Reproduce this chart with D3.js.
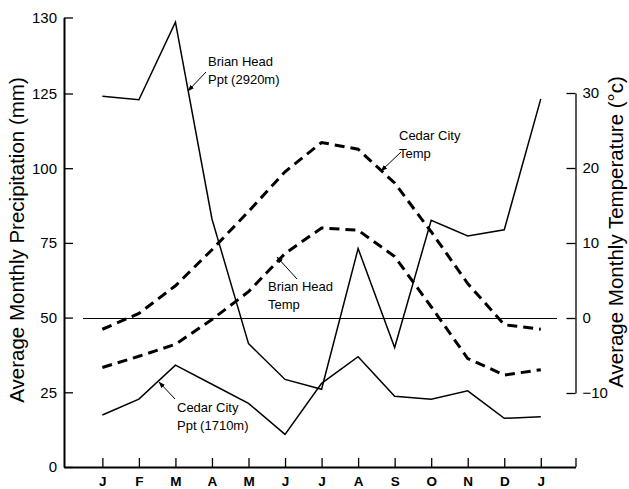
<!DOCTYPE html>
<html>
<head>
<meta charset="utf-8">
<script src="https://cdn.jsdelivr.net/npm/d3@7"></script>
<style>
  html, body { margin: 0; padding: 0; background: #fff; }
  svg { display: block; font-family: "Liberation Sans", Arial, Helvetica, sans-serif; }
</style>
</head>
<body>
<svg id="chart" width="629" height="489"></svg>
<script>
// ---- data ----
const months = ["J", "F", "M", "A", "M", "J", "J", "A", "S", "O", "N", "D", "J"];
const brianHeadPpt = [124.1, 122.9, 129.7, 83, 41.3, 29.3, 26, 73.1, 40, 82.6, 77.3, 79.4, 123.2];
const cedarCityPpt = [17.4, 22.7, 34.1, 27.7, 21.3, 10.9, 28, 36.9, 23.7, 22.7, 25.5, 16.3, 16.8];
const cedarCityTemp = [-1.5, 0.6, 4.3, 9.1, 14.2, 19.5, 23.4, 22.5, 18.0, 11.5, 4.6, -0.9, -1.5];
const brianHeadTemp = [-6.6, -5.1, -3.5, -0.2, 3.5, 8.6, 12.0, 11.7, 8.2, 1.5, -5.4, -7.6, -6.9];
const pptTicks = [0, 25, 50, 75, 100, 125, 130];
const tempTicks = [-10, 0, 10, 20, 30];

const svg = d3.select("#chart");

// ---- scales ----
const x = d3.scaleLinear().domain([-1.05, 12.95]).range([64, 575.5]);
const yP = d3.scaleLinear().domain([0, 125, 130]).range([467, 93.5, 17.5]);
const yT = d3.scaleLinear().domain([-10, 30]).range([393, 93]);

// ---- zero-temperature reference line ----
svg.append("line")
  .attr("x1", 83).attr("x2", 557)
  .attr("y1", yT(0) + 0.5).attr("y2", yT(0) + 0.5)
  .attr("stroke", "#000").attr("stroke-width", 1);

// ---- axes ----
const leftAxis = d3.axisLeft(yP).tickValues(pptTicks)
  .tickSizeInner(-9).tickSizeOuter(0).tickPadding(7)
  .tickFormat(d3.format("d"));
const gL = svg.append("g").attr("transform", "translate(64,0)").call(leftAxis);
gL.select(".domain").attr("stroke-width", 2);
gL.selectAll(".tick line").attr("stroke-width", 1.3);
gL.selectAll("text").attr("font-size", 15).attr("fill", "#000")
  .attr("font-family", "'Liberation Sans', Arial, sans-serif");

const bottomTicks = d3.range(0, 13).concat([12.95]);
const bottomAxis = d3.axisBottom(x).tickValues(bottomTicks)
  .tickSizeInner(-9).tickSizeOuter(0).tickPadding(9)
  .tickFormat((d, i) => i < months.length ? months[i] : "");
const gB = svg.append("g").attr("transform", "translate(0,467)").call(bottomAxis);
gB.select(".domain").attr("stroke-width", 2);
gB.selectAll(".tick line").attr("stroke-width", 1.3);
gB.selectAll("text").attr("font-size", 13.5).attr("font-weight", "bold").attr("fill", "#000")
  .attr("font-family", "'Liberation Sans', Arial, sans-serif");

const rightAxis = d3.axisRight(yT).tickValues(tempTicks)
  .tickSizeInner(-9).tickSizeOuter(0).tickPadding(7)
  .tickFormat(d3.format("d"));
const gR = svg.append("g").attr("transform", "translate(575.5,0)").call(rightAxis);
gR.select(".domain").attr("stroke-width", 1.3);
gR.selectAll(".tick line").attr("stroke-width", 1.3);
gR.selectAll("text").attr("font-size", 15).attr("fill", "#000")
  .attr("font-family", "'Liberation Sans', Arial, sans-serif");

// ---- axis titles ----
svg.append("text")
  .attr("transform", "translate(24,240) rotate(-90)")
  .attr("text-anchor", "middle").attr("font-size", 20.5)
  .text("Average Monthly Precipitation (mm)");
svg.append("text")
  .attr("transform", "translate(623,232) rotate(-90)")
  .attr("text-anchor", "middle").attr("font-size", 20.5)
  .text("Average Monthly Temperature (°c)");

// ---- series ----
const pptLine = d3.line().x((d, i) => x(i)).y(d => yP(d));
const tempLine = d3.line().x((d, i) => x(i)).y(d => yT(d));

svg.append("path").datum(brianHeadPpt).attr("d", pptLine)
  .attr("fill", "none").attr("stroke", "#000").attr("stroke-width", 1.5);
svg.append("path").datum(cedarCityPpt).attr("d", pptLine)
  .attr("fill", "none").attr("stroke", "#000").attr("stroke-width", 1.5);
svg.append("path").datum(cedarCityTemp).attr("d", tempLine)
  .attr("fill", "none").attr("stroke", "#000").attr("stroke-width", 3)
  .attr("stroke-dasharray", "10,6");
svg.append("path").datum(brianHeadTemp).attr("d", tempLine)
  .attr("fill", "none").attr("stroke", "#000").attr("stroke-width", 3)
  .attr("stroke-dasharray", "10,6");

// ---- annotations ----
const defs = svg.append("defs");
defs.append("marker").attr("id", "arr")
  .attr("viewBox", "0 0 10 10").attr("refX", 9).attr("refY", 5)
  .attr("markerWidth", 7).attr("markerHeight", 7).attr("orient", "auto")
  .append("path").attr("d", "M0,1.5 L10,5 L0,8.5 Z").attr("fill", "#000");

const notes = [
  { lines: ["Brian Head", "Ppt (2920m)"], tx: 208, ty: 66, from: [206, 72], to: [188, 91] },
  { lines: ["Cedar City", "Temp"], tx: 399, ty: 140, from: [401, 152], to: [381, 171] },
  { lines: ["Brian Head", "Temp"], tx: 268, ty: 291, from: [297, 279], to: [277, 257] },
  { lines: ["Cedar City", "Ppt (1710m)"], tx: 177, ty: 412, from: [175, 399], to: [159, 382] }
];
notes.forEach(n => {
  const t = svg.append("text").attr("x", n.tx).attr("y", n.ty).attr("font-size", 13);
  n.lines.forEach((l, i) => t.append("tspan").attr("x", n.tx).attr("dy", i === 0 ? 0 : 17.5).text(l));
  svg.append("line")
    .attr("x1", n.from[0]).attr("y1", n.from[1]).attr("x2", n.to[0]).attr("y2", n.to[1])
    .attr("stroke", "#000").attr("stroke-width", 1).attr("marker-end", "url(#arr)");
});
</script>
</body>
</html>
